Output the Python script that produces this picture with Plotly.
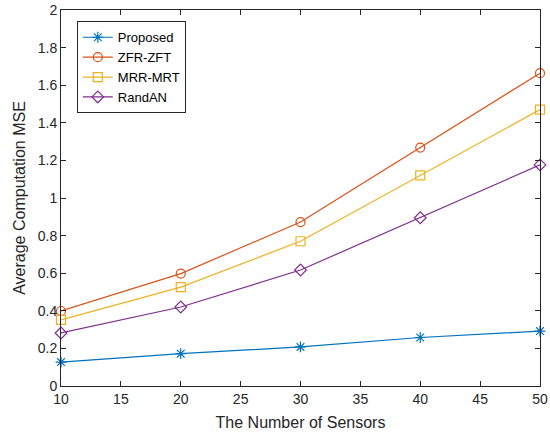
import plotly.graph_objects as go

sensors = [10, 20, 30, 40, 50]
proposed = [0.127, 0.172, 0.208, 0.258, 0.292]
zfr_zft = [0.399, 0.598, 0.872, 1.268, 1.664]
mrr_mrt = [0.352, 0.526, 0.770, 1.120, 1.470]
randan = [0.282, 0.420, 0.617, 0.895, 1.176]

names = ["Proposed", "ZFR-ZFT", "MRR-MRT", "RandAN"]
colors = ["#0072BD", "#D95319", "#EDB120", "#7E2F8E"]
symbols = ["asterisk-open", "circle-open", "square-open", "diamond-open"]
series = [proposed, zfr_zft, mrr_mrt, randan]

fig = go.Figure()
for n, c, s, v in zip(names, colors, symbols, series):
    fig.add_trace(go.Scatter(
        x=sensors, y=v, name=n, mode="lines+markers",
        line=dict(color=c, width=1.2),
        marker=dict(symbol=s, size=9, color=c, line=dict(color=c, width=1.2)),
        cliponaxis=False,
    ))

axis_common = dict(
    showline=True, linecolor="#262626", linewidth=1, mirror="ticks",
    ticks="inside", ticklen=5, tickcolor="#262626", showgrid=False,
    zeroline=False, tickfont=dict(size=14, color="#262626"),
)
fig.update_xaxes(range=[10, 50], tickvals=[10, 15, 20, 25, 30, 35, 40, 45, 50],
                 title=dict(text="The Number of Sensors", font=dict(size=16, color="#262626"), standoff=11),
                 **axis_common)
fig.update_yaxes(range=[0, 2], tickvals=[0, 0.2, 0.4, 0.6, 0.8, 1, 1.2, 1.4, 1.6, 1.8, 2],
                 ticktext=["0", "0.2", "0.4", "0.6", "0.8", "1", "1.2", "1.4", "1.6", "1.8", "2"],
                 title=dict(text="Average Computation MSE", font=dict(size=16, color="#262626"), standoff=8),
                 **axis_common)
fig.update_layout(
    width=550, height=437,
    margin=dict(l=61, r=10, t=10, b=51, autoexpand=False),
    paper_bgcolor="white", plot_bgcolor="white",
    font=dict(family="Liberation Sans, Arial, sans-serif", color="#262626"),
    legend=dict(x=0.033, y=0.97, xanchor="left", yanchor="top",
                bgcolor="white", bordercolor="#262626", borderwidth=1,
                font=dict(size=13, color="#000000"), tracegroupgap=0,
                itemwidth=30),
    showlegend=True,
)
fig.write_html("out.html", config={"displayModeBar": False},
               post_script="document.body.style.margin='0';")
